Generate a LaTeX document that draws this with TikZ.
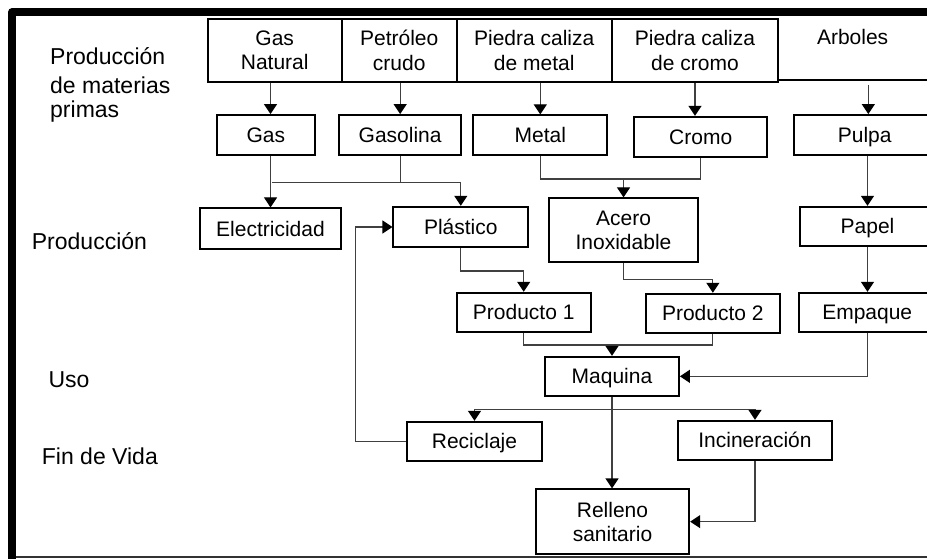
\documentclass[tikz,border=0pt]{standalone}
\usepackage{fontspec}
\setmainfont{Liberation Sans}
\usetikzlibrary{arrows.meta}
\newcommand\boxfont{\fontsize{21}{24.3}\selectfont}
\newcommand\stagefont{\fontsize{23}{28}\selectfont}
\begin{document}
\begin{tikzpicture}[x=1pt,y=-1pt,
  box/.style={draw=black, line width=1.8pt, inner sep=0pt, align=center, font=\boxfont},
  onebox/.style={box, text height=15.2pt, text depth=0pt},
  stage/.style={inner sep=0pt, anchor=base west, font=\stagefont},
  flow/.style={draw=black!75, line width=1.2pt},
  arr/.style={flow, -{Triangle[width=13pt,length=10pt,color=black]}},
]
\useasboundingbox (0,0) rectangle (927,559);
\clip (0,0) rectangle (927,559);

% outer frame
\draw[line width=7.5pt, line join=round] (12,570) -- (12,12) -- (940,12);
\draw[line width=1.5pt, black!80] (16,557) -- (940,557);

% stage labels
\node[stage] (st1a) at (50,65) {Producción};
\node[stage] (st1b) at (50,94) {de materias};
\node[stage] (st1c) at (50,118) {primas};
\node[stage] (st2) at (31.7,249.3) {Producción};
\node[stage] (st3) at (48.3,387.7) {Uso};
\node[stage] (st4) at (41.7,464.3) {Fin de Vida};

% raw materials
\node[box, minimum width=134pt, minimum height=63.5pt] (gasnat) at (274.7,50.5) {Gas\\Natural};
\node[box, minimum width=115pt, minimum height=63.5pt] (petroleo) at (399.2,50.5) {Petróleo\\crudo};
\node[box, minimum width=155pt, minimum height=63.5pt] (pcmetal) at (534.2,50.5) {Piedra caliza\\de metal};
\node[box, minimum width=166.6pt, minimum height=63.5pt] (pccromo) at (695,50.5) {Piedra caliza\\de cromo};
\node[onebox, draw=none] (arboles) at (852.65,36.8) {Arboles};
\coordinate (arbLine) at (778.3,80);
\draw[line width=1.8pt] (arbLine) -- ++(160,0);

% processed materials
\node[onebox, minimum width=98.3pt, minimum height=40pt] (gas) at (265.85,135) {Gas};
\node[onebox, minimum width=121.7pt, minimum height=40pt] (gasolina) at (400.15,135) {Gasolina};
\node[onebox, minimum width=134pt, minimum height=40pt] (metal) at (540.3,135.3) {Metal};
\node[onebox, minimum width=133.3pt, minimum height=40pt] (cromo) at (700.7,136.7) {Cromo};
\node[onebox, minimum width=141pt, minimum height=40pt] (pulpa) at (864.7,135) {Pulpa};

% production
\node[onebox, minimum width=141pt, minimum height=41pt] (elec) at (270.5,228.8) {Electricidad};
\node[onebox, minimum width=135pt, minimum height=40.6pt] (plastico) at (460.8,227) {Plástico};
\node[box, minimum width=148.4pt, minimum height=64pt] (acero) at (623.5,230.3) {Acero\\Inoxidable};
\node[onebox, minimum width=135pt, minimum height=39.3pt] (papel) at (867.5,226.35) {Papel};

\node[onebox, minimum width=134pt, minimum height=39pt] (prod1) at (523.7,312.2) {Producto 1};
\node[onebox, minimum width=134.3pt, minimum height=39pt] (prod2) at (712.85,313.2) {Producto 2};
\node[onebox, minimum width=135.7pt, minimum height=39pt] (empaque) at (867.2,312.2) {Empaque};

% use
\node[onebox, minimum width=134pt, minimum height=39.3pt] (maquina) at (612,376.35) {Maquina};

% end of life
\node[onebox, minimum width=134.4pt, minimum height=39pt] (reciclaje) at (474.5,441.2) {Reciclaje};
\node[onebox, minimum width=153.4pt, minimum height=39.3pt] (incin) at (755,440.35) {Incineración};
\node[box, minimum width=153.6pt, minimum height=64.7pt] (relleno) at (612.5,521.65) {Relleno\\sanitario};

% junction points
\coordinate (jA) at (271.7,182.7);
\coordinate (jB) at (624.3,179);
\coordinate (jC) at (613.3,345);
\coordinate (jD) at (612,409.3);
\coordinate (arbOut) at (868.3,85);

% connectors
\draw[arr] (gasnat.south -| elec.north) -- (gas.north -| elec.north);
\draw[arr] (gas.south -| elec.north) -- (elec.north);
\draw[arr] (gasolina.north |- petroleo.south) -- (gasolina.north);
\draw[flow] (gasolina.south) -- (gasolina.south |- jA) -- (jA);
\draw[arr] (jA) -| (plastico.north);

\draw[arr] (metal.north |- pcmetal.south) -- (metal.north);
\draw[arr] (pccromo.south) -- (pccromo.south |- cromo.north);
\draw[flow] (metal.south) |- (jB) -| (cromo.south);
\draw[arr] (jB -| acero.north) -- (acero.north);

\draw[arr] (arbOut) -- (arbOut |- pulpa.north);
\draw[arr] (pulpa.south -| papel.north) -- (papel.north);
\draw[arr] (papel.south) -- (papel.south |- empaque.north);

\draw[arr] (plastico.south) -- ++(0,22.7) -| (prod1.north);
\draw[arr] (acero.south) -- ++(0,16) -| (prod2.north);

\draw[flow] (prod1.south) |- (jC) -| (prod2.south);
\draw[arr] (jC -| maquina.north) -- (maquina.north);
\draw[arr] (empaque.south) |- (maquina.east);

\draw[arr] (maquina.south) -- (maquina.south |- relleno.north);
\draw[arr] (jD) -| (reciclaje.north);
\draw[arr] (jD) -| (incin.north);
\draw[arr] (incin.south) |- (relleno.east);
\draw[arr] (reciclaje.west) -- ++(-50.6,0) |- (plastico.west);
\end{tikzpicture}
\end{document}
